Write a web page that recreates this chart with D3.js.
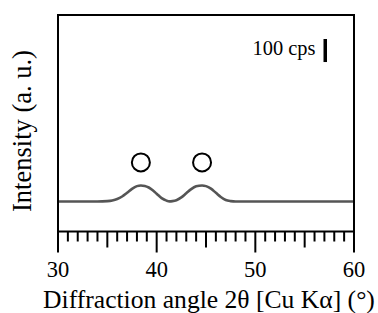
<!DOCTYPE html>
<html><head><meta charset="utf-8">
<script src="https://cdn.jsdelivr.net/npm/d3@7"></script>
<style>body{margin:0;background:#fff}svg{display:block}</style>
</head><body>
<script>
const angles = [30,31,32,33,34,35,35.5,36,36.5,37,37.5,38,38.4,38.8,39.2,39.6,40,40.5,41,41.3,41.6,42,42.5,43,43.5,44,44.6,45,45.5,46,46.5,47,47.5,48,49,50,52,54,56,58,60];
const intensity = [200,200,200,200,200,202,205,211,222,238,255,267,270,268,261,249,234,215,204,201,202,206,218,236,254,266,270,267,256,238,220,207,202,200,200,200,200,200,200,200,200];
const peakAngles = [38.4, 44.6];
const peakMarkY = 370;
const xTicks = [30,40,50,60];
const scaleBarCps = 100;

const FONT = '"Liberation Serif"';
const W=378,H=313;
const svg=d3.select("body").append("svg").attr("width",W).attr("height",H);
const x=d3.scaleLinear().domain([30,60]).range([58,354]);
const y=d3.scaleLinear().domain([70,1010]).range([231.5,15]);

function txt(sel,size){return sel.style("font-family",FONT).style("font-size",size+"px").attr("fill","#000");}
function fitWidth(node,target){const s=parseFloat(node.style.fontSize);const w=node.getComputedTextLength();node.style.fontSize=(s*target/w)+"px";}

svg.append("path").datum(angles.map((a,i)=>[a,intensity[i]]))
  .attr("d",d3.line().x(d=>x(d[0])).y(d=>y(d[1])).curve(d3.curveMonotoneX))
  .attr("fill","none").attr("stroke","#555").attr("stroke-width",2.6);

svg.append("rect").attr("x",x(30)).attr("y",y(1010)).attr("width",x(60)-x(30)).attr("height",y(70)-y(1010))
  .attr("fill","none").attr("stroke","#000").attr("stroke-width",2);

const minor=d3.range(30,61,1);
const g=svg.append("g").attr("transform",`translate(0,${y(70)})`);
g.selectAll("line").data(minor).join("line")
  .attr("x1",d=>x(d)).attr("x2",d=>x(d)).attr("y1",0)
  .attr("y2",d=>d%10===0?21:(d%5===0?16:10))
  .attr("stroke","#000").attr("stroke-width",2);
txt(g.selectAll("text").data(xTicks).join("text")
  .attr("x",d=>x(d)).attr("y",45.5).attr("text-anchor","middle"),22).text(d=>d)
  .each(function(){fitWidth(this,22.5);});

const xt=txt(svg.append("text").attr("x",209).attr("y",308).attr("text-anchor","middle"),20)
  .text("Diffraction angle 2θ [Cu Kα] (°)");
fitWidth(xt.node(),332);
const yt=txt(svg.append("text").attr("transform","translate(31,131) rotate(-90)").attr("text-anchor","middle"),20)
  .text("Intensity (a. u.)");
fitWidth(yt.node(),162);

svg.selectAll("circle.pk").data(peakAngles).join("circle").attr("class","pk")
  .attr("cx",d=>x(d)).attr("cy",y(peakMarkY)).attr("r",9)
  .attr("fill","none").attr("stroke","#000").attr("stroke-width",2);

svg.append("rect").attr("x",323.5).attr("y",39).attr("width",3.5)
  .attr("height",y(0)-y(scaleBarCps)).attr("fill","#000");
const ct=txt(svg.append("text").attr("x",315.5).attr("y",55).attr("text-anchor","end"),17)
  .text(scaleBarCps+" cps");
fitWidth(ct.node(),63);
</script>
</body></html>
